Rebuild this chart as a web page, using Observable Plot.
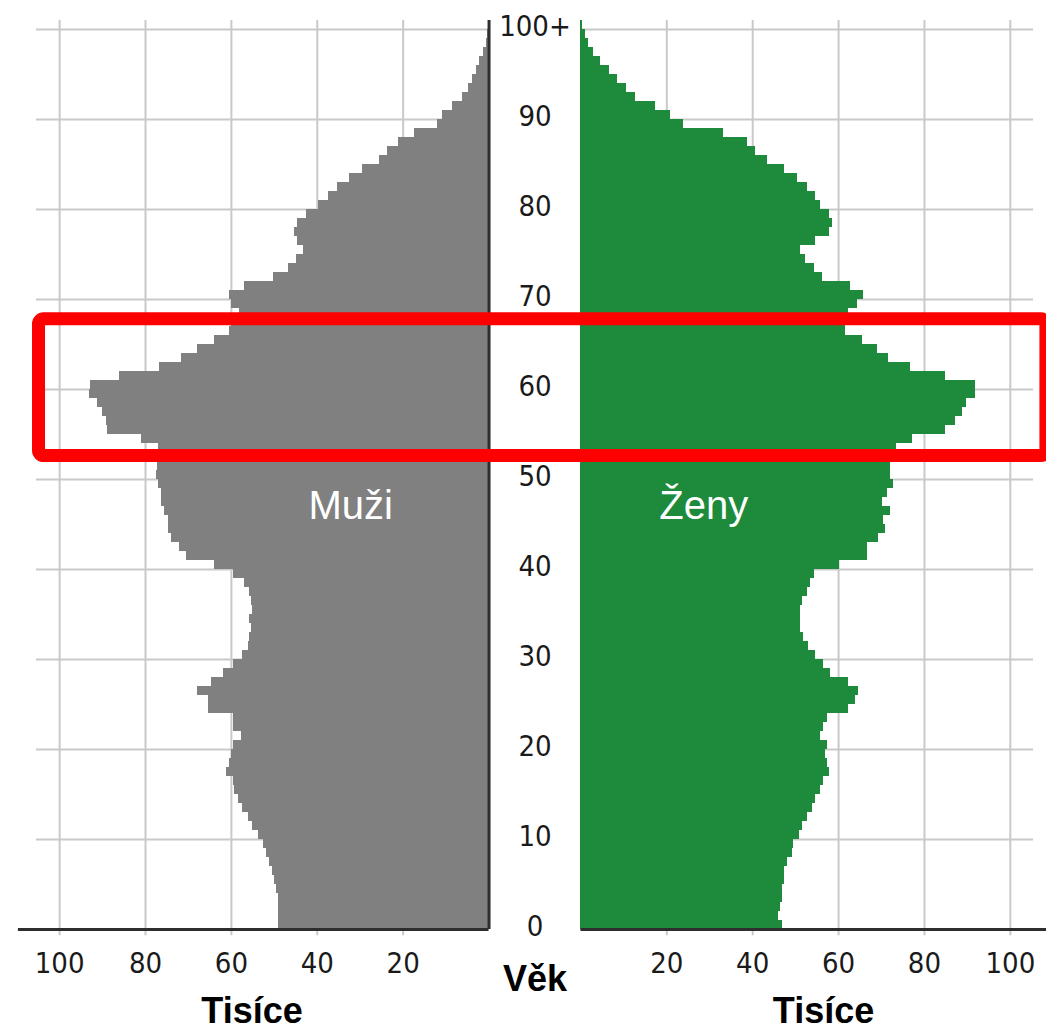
<!DOCTYPE html>
<html>
<head>
<meta charset="utf-8">
<script src="https://cdn.jsdelivr.net/npm/d3@7"></script>
<script src="https://cdn.jsdelivr.net/npm/@observablehq/plot@0.6"></script>
<style>
  html, body { margin: 0; padding: 0; background: #ffffff; }
  #chart svg { display: block; }
</style>
</head>
<body>
<div id="chart"></div>
<script>
// ---- data (thousands of people by single year of age, 0 .. 100+) ----
const ages = d3.range(0, 101);
const male = [
  49.1, 49.1, 49.1, 49.1, 49.5, 49.9, 50.5, 51.1, 51.9, 52.6,
  53.8, 55.0, 56.1, 57.3, 58.4, 59.2, 59.6, 61.2, 60.4, 60.0,
  59.6, 57.7, 59.6, 59.6, 65.4, 65.4, 67.8, 64.7, 61.9, 59.6,
  57.3, 56.1, 55.7, 55.3, 55.7, 55.0, 55.3, 55.7, 56.9, 59.6,
  63.9, 70.5, 72.0, 74.0, 74.7, 74.7, 75.5, 76.3, 76.3, 77.0,
  77.4, 77.2, 77.0, 77.0, 81.0, 88.8, 89.0, 90.0, 91.2, 93.0,
  92.8, 86.0, 76.7, 71.6, 67.8, 63.9, 60.4, 60.0, 58.1, 60.0,
  60.4, 56.9, 50.3, 46.8, 44.9, 43.3, 44.5, 45.3, 44.5, 42.6,
  39.8, 37.5, 35.2, 32.5, 29.4, 25.5, 23.6, 21.2, 17.4, 12.1,
  10.8, 8.4, 6.1, 4.8, 3.8, 3.0, 2.2, 1.4, 0.7, 0.4,
  0.2
];
const female = [
  46.9, 46.1, 46.5, 46.9, 46.9, 47.3, 47.3, 48.1, 49.2, 49.6,
  50.8, 51.6, 52.7, 53.9, 54.7, 55.8, 56.6, 57.8, 57.4, 57.0,
  57.4, 55.8, 56.6, 57.4, 62.4, 63.9, 64.7, 62.4, 58.1, 56.6,
  54.7, 53.1, 51.9, 51.2, 51.2, 51.2, 51.6, 52.7, 53.5, 54.3,
  60.1, 66.7, 66.7, 69.4, 70.9, 70.5, 72.1, 70.2, 71.3, 72.9,
  72.1, 72.1, 72.5, 73.6, 77.1, 84.9, 87.2, 88.8, 89.9, 91.9,
  91.9, 84.9, 76.7, 71.7, 69.0, 65.5, 61.6, 61.6, 62.4, 64.3,
  65.9, 62.8, 56.2, 54.3, 52.3, 51.2, 54.7, 57.8, 58.5, 57.8,
  55.8, 54.7, 52.7, 50.4, 47.3, 43.4, 40.7, 38.8, 33.3, 24.0,
  20.8, 17.4, 12.6, 10.6, 8.6, 6.6, 4.6, 3.0, 1.8, 1.0,
  0.4
];
const valueTicks = [20, 40, 60, 80, 100];
const ageTicks = [0, 10, 20, 30, 40, 50, 60, 70, 80, 90, 100];
const ageTickLabels = ["0", "10", "20", "30", "40", "50", "60", "70", "80", "90", "100+"];
const sexLabels = ["Muži", "Ženy"];
const unitLabel = "Tisíce";
const ageLabel = "Věk";
// highlighted age band (red frame)
const highlightAges = [52.6, 67.8];

// ---- layout helpers (in value units, thousands) ----
const GAP = 10.7;          // half of the central gap holding the age labels
const GRID_MAX = 105.4;    // extent of the grid on each side
const AXIS_LEFT = 109.6;   // extent of the base line on the left side
const AXIS_RIGHT = 112;    // extent of the base line on the right side
const FRAME_LEFT = 104.8;  // red frame left edge (beyond gap)
const FRAME_RIGHT = 108.4; // red frame right edge (beyond gap)

const bars = [];
ages.forEach((a, i) => {
  bars.push({sex: "M", x1: -GAP, x2: -GAP - male[i], y1: a, y2: a + 1});
  bars.push({sex: "F", x1: GAP, x2: GAP + female[i], y1: a, y2: a + 1});
});

const hGrid = [];
ageTicks.filter(a => a > 0).forEach(a => {
  hGrid.push({y: a, x1: -GAP - GRID_MAX, x2: -GAP});
  hGrid.push({y: a, x1: GAP, x2: GAP + GRID_MAX});
});
const vGrid = [];
valueTicks.forEach(t => {
  vGrid.push({x: -GAP - t, label: String(t)});
  vGrid.push({x: GAP + t, label: String(t)});
});
const ageTickData = ageTicks.map((a, i) => ({y: a, label: ageTickLabels[i]}));
const baseLine = [
  {x1: -GAP - AXIS_LEFT, x2: -GAP, y: 0},
  {x1: GAP, x2: GAP + AXIS_RIGHT, y: 0}
];
const sexLabelData = [
  {x: -GAP - 32.2, y: 47, label: sexLabels[0]},
  {x: GAP + 28.6, y: 47, label: sexLabels[1]}
];
const unitLabelData = [
  {x: -GAP - 55.2, label: unitLabel},
  {x: GAP + 56.5, label: unitLabel}
];
const frame = [{
  x1: -GAP - FRAME_LEFT, x2: GAP + FRAME_RIGHT,
  y1: highlightAges[0], y2: highlightAges[1]
}];

const TICK_FONT = "'DejaVu Sans Condensed', 'DejaVu Sans', Verdana, sans-serif";
const BOLD_FONT = "'Liberation Sans', Arial, sans-serif";

const chart = Plot.plot({
  width: 1046,
  height: 1031,
  margin: 0,
  style: {background: "#ffffff", overflow: "visible"},
  x: {domain: [-124.47, 119.12], range: [0, 1046], axis: null},
  y: {domain: [0, 101], range: [929, 20], axis: null},
  marks: [
    // grid
    Plot.ruleY(hGrid, {y: "y", x1: "x1", x2: "x2", stroke: "#c9c9c9", strokeWidth: 2}),
    Plot.ruleX(vGrid, {x: "x", y1: -0.7, y2: 101, stroke: "#c9c9c9", strokeWidth: 2}),
    // bars
    Plot.rect(bars, {
      x1: "x1", x2: "x2", y1: "y1", y2: "y2",
      fill: d => d.sex === "M" ? "#808080" : "#1d8a3c",
      shapeRendering: "crispEdges"
    }),
    // centre line (male side) and base lines
    Plot.ruleX([-GAP], {y1: 0, y2: 101, stroke: "#2e2e2e", strokeWidth: 3}),
    Plot.ruleY(baseLine, {y: "y", x1: "x1", x2: "x2", stroke: "#2e2e2e", strokeWidth: 3}),
    // value tick labels
    Plot.text(vGrid, {
      x: "x", y: 0, text: "label", dy: 34,
      fontSize: 29, fontFamily: TICK_FONT, fill: "#1a1a1a"
    }),
    // age tick labels
    Plot.text(ageTickData, {
      x: 0, y: "y", text: "label", dy: -3,
      fontSize: 29, fontFamily: TICK_FONT, fill: "#1a1a1a"
    }),
    // axis titles
    Plot.text([ageLabel], {
      x: 0, y: 0, text: d => d, dy: 50,
      fontSize: 36, fontWeight: "bold", fontFamily: BOLD_FONT, fill: "#000000"
    }),
    Plot.text(unitLabelData, {
      x: "x", y: 0, text: "label", dy: 82,
      fontSize: 36, fontWeight: "bold", fontFamily: BOLD_FONT, fill: "#000000"
    }),
    // sex labels inside the bars
    Plot.text(sexLabelData, {
      x: "x", y: "y", text: "label",
      fontSize: 40, fontFamily: BOLD_FONT, fill: "#ffffff"
    }),
    // highlight frame
    Plot.rect(frame, {
      x1: "x1", x2: "x2", y1: "y1", y2: "y2",
      fill: "none", stroke: "#ff0000", strokeWidth: 13, rx: 5
    })
  ]
});
document.getElementById("chart").appendChild(chart);
</script>
</body>
</html>
